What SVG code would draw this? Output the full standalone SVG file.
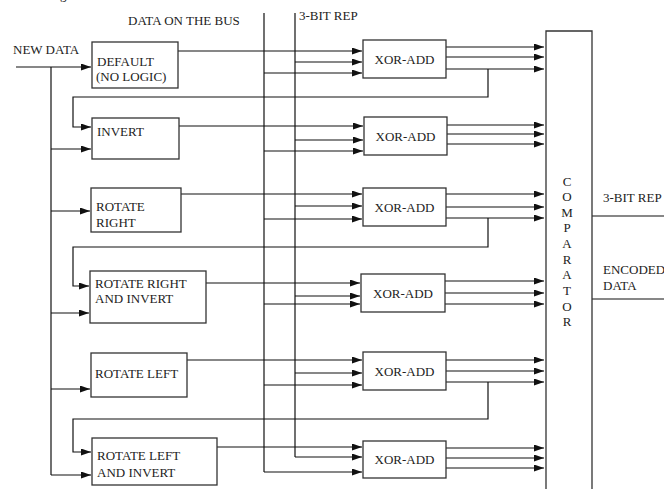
<svg xmlns="http://www.w3.org/2000/svg" width="664" height="489" viewBox="0 0 664 489">
<defs>
<marker id="ah" markerUnits="userSpaceOnUse" markerWidth="10" markerHeight="7" refX="10" refY="3.5" orient="auto">
<path d="M0,0 L10,3.5 L0,7 z" fill="#111"/>
</marker>
<style>
text{font-family:"Liberation Serif","Times New Roman",serif;font-size:13px;fill:#222}
.box{fill:#fff;stroke:#333;stroke-width:1.3}
.w{fill:none;stroke:#111;stroke-width:1.2}
.a{fill:none;stroke:#111;stroke-width:1.2;marker-end:url(#ah)}
.c{text-anchor:middle}
</style>
</defs>
<rect width="664" height="489" fill="#fff"/>
<text x="60" y="-1">g</text>
<text x="128" y="25">DATA ON THE BUS</text>
<text x="299" y="20">3-BIT REP</text>
<text x="13" y="54">NEW DATA</text>

<g id="connectors">
<path class="w" d="M264,13 V472"/>
<path class="w" d="M295,13 V457"/>
<path class="w" d="M51,67 V475"/>
<path class="a" d="M16,67 H91"/>
<path class="a" d="M51,149 H91"/>
<path class="a" d="M51,211 H90"/>
<path class="a" d="M51,313 H89"/>
<path class="a" d="M51,389 H90"/>
<path class="a" d="M51,475 H91"/>
<!-- row 1 -->
<path class="a" d="M178,51 H362"/>
<path class="a" d="M295,62 H362"/>
<path class="a" d="M264,73 H362"/>
<path class="a" d="M446,47 H544"/>
<path class="a" d="M446,57 H544"/>
<path class="a" d="M446,69 H544"/>
<path class="a" d="M488,69 V97 H73 V127 H91"/>
<!-- row 2 -->
<path class="a" d="M179,126 H363"/>
<path class="a" d="M295,140 H363"/>
<path class="a" d="M264,151 H363"/>
<path class="a" d="M447,125 H544"/>
<path class="a" d="M447,134 H544"/>
<path class="a" d="M447,144 H544"/>
<!-- row 3 -->
<path class="a" d="M181,194 H362"/>
<path class="a" d="M295,206 H362"/>
<path class="a" d="M264,219 H362"/>
<path class="a" d="M446,194 H544"/>
<path class="a" d="M446,207 H544"/>
<path class="a" d="M446,218 H544"/>
<path class="a" d="M488,218 V247 H73 V286 H89"/>
<!-- row 4 -->
<path class="a" d="M206,283 H360"/>
<path class="a" d="M295,296 H360"/>
<path class="a" d="M264,304 H360"/>
<path class="a" d="M445,281 H544"/>
<path class="a" d="M445,293 H544"/>
<path class="a" d="M445,304 H544"/>
<!-- row 5 -->
<path class="a" d="M187,360 H362"/>
<path class="a" d="M295,373 H362"/>
<path class="a" d="M264,385 H362"/>
<path class="a" d="M446,360 H544"/>
<path class="a" d="M446,371 H544"/>
<path class="a" d="M446,382 H544"/>
<path class="a" d="M488,382 V419 H73 V452 H91"/>
<!-- row 6 -->
<path class="a" d="M217,447 H362"/>
<path class="a" d="M295,457 H362"/>
<path class="a" d="M264,472 H362"/>
<path class="a" d="M446,448 H544"/>
<path class="a" d="M446,458 H544"/>
<path class="a" d="M446,468 H544"/>
<!-- comparator outputs -->
<path class="w" d="M592,216 H664"/>
<path class="w" d="M592,299 H664"/>
</g>

<g id="default"><rect class="box" x="92" y="42" width="86" height="46"/><text x="97" y="66">DEFAULT</text><text x="96" y="81">(NO LOGIC)</text></g>
<g id="invert"><rect class="box" x="92" y="118" width="87" height="41"/><text x="97" y="136">INVERT</text></g>
<g id="rotate-right"><rect class="box" x="91" y="188" width="90" height="44"/><text x="96" y="211">ROTATE</text><text x="96" y="227">RIGHT</text></g>
<g id="rotate-right-invert"><rect class="box" x="90" y="271" width="116" height="52"/><text x="95" y="288">ROTATE RIGHT</text><text x="95" y="303">AND INVERT</text></g>
<g id="rotate-left"><rect class="box" x="91" y="353" width="96" height="44"/><text x="95" y="378">ROTATE LEFT</text></g>
<g id="rotate-left-invert"><rect class="box" x="92" y="438" width="125" height="47"/><text x="97" y="460">ROTATE LEFT</text><text x="97" y="477">AND INVERT</text></g>

<g id="xor1"><rect class="box" x="363" y="40" width="83" height="38"/><text class="c" x="404.5" y="64">XOR-ADD</text></g>
<g id="xor2"><rect class="box" x="364" y="117" width="83" height="38"/><text class="c" x="405.5" y="141">XOR-ADD</text></g>
<g id="xor3"><rect class="box" x="363" y="188" width="83" height="38"/><text class="c" x="404.5" y="212">XOR-ADD</text></g>
<g id="xor4"><rect class="box" x="361" y="274" width="84" height="38"/><text class="c" x="403" y="298">XOR-ADD</text></g>
<g id="xor5"><rect class="box" x="363" y="352" width="83" height="38"/><text class="c" x="404.5" y="376">XOR-ADD</text></g>
<g id="xor6"><rect class="box" x="363" y="441" width="83" height="37"/><text class="c" x="404.5" y="464">XOR-ADD</text></g>

<g id="comparator">
<path d="M546,489 V31 H592 V489" fill="#fff" stroke="#333" stroke-width="1.3"/>
<text class="c" x="567" y="186">C</text>
<text class="c" x="567" y="201">O</text>
<text class="c" x="567" y="217">M</text>
<text class="c" x="567" y="232">P</text>
<text class="c" x="567" y="248">A</text>
<text class="c" x="567" y="264">R</text>
<text class="c" x="567" y="279">A</text>
<text class="c" x="567" y="295">T</text>
<text class="c" x="567" y="311">O</text>
<text class="c" x="567" y="326">R</text>
</g>
<text x="603" y="202">3-BIT REP</text>
<text x="603" y="274">ENCODED</text>
<text x="603" y="290">DATA</text>
</svg>
